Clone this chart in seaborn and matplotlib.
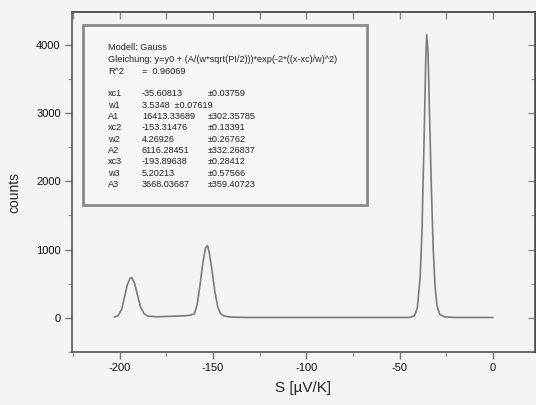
import numpy as np
import matplotlib.pyplot as plt
import seaborn as sns
from matplotlib.patches import Rectangle
from matplotlib.ticker import MultipleLocator

s_werte = [-203, -201, -199, -197.5, -196, -194.5, -193.5, -192, -190.5, -189, -187, -185,
           -180, -175, -170, -165, -162, -160, -158.5, -157, -155.5, -154, -153, -152,
           -150.5, -149, -147.5, -146, -144, -140, -130, -120, -100, -80, -60, -50, -45,
           -42, -40.5, -39, -38, -37, -36, -35.5, -34.8, -34, -33, -32, -31, -30, -28.5,
           -26, -20, -10, 0]
counts = [10, 30, 120, 300, 480, 580, 590, 500, 330, 170, 60, 25,
          15, 20, 25, 30, 40, 60, 200, 480, 800, 1030, 1060, 950,
          680, 380, 160, 60, 25, 10, 5, 5, 5, 5, 5, 5, 5,
          30, 150, 600, 1300, 2500, 3800, 4150, 3900, 3000, 1900, 1000, 450, 180, 50,
          15, 5, 5, 5]

namen = ['xc1', 'w1', 'A1', 'xc2', 'w2', 'A2', 'xc3', 'w3', 'A3']
werte = ['-35.60813', '3.5348  \u00b10.07619', '16413.33689', '-153.31476', '4.26926',
         '6116.28451', '-193.89638', '5.20213', '3668.03687']
fehler = ['\u00b10.03759', '', '\u00b1302.35785', '\u00b10.13391', '\u00b10.26762',
          '\u00b1332.26837', '\u00b10.28412', '\u00b10.57566', '\u00b1359.40723']

sns.set_style('ticks')
plt.rcParams['font.family'] = ['Liberation Sans', 'DejaVu Sans']
plt.rcParams['axes.unicode_minus'] = False

fig = plt.figure(figsize=(5.36, 4.05), dpi=100, facecolor='#f4f4f4')
ax = fig.add_axes([0.134, 0.131, 0.864, 0.839])
ax.set_facecolor('#f4f4f4')

sns.lineplot(x=s_werte, y=counts, ax=ax, color='#7c7c7c', linewidth=1.2, sort=False)

ax.set_xlim(-225.7, 22.5)
ax.set_ylim(-500, 4480)
ax.xaxis.set_major_locator(MultipleLocator(50))
ax.xaxis.set_minor_locator(MultipleLocator(25))
ax.set_yticks([0, 1000, 2000, 3000, 4000])
ax.yaxis.set_minor_locator(MultipleLocator(500))

for sp in ax.spines.values():
    sp.set_color('#555555')
    sp.set_linewidth(1.2)

ax.tick_params(axis='both', which='major', direction='out', length=5, width=1,
               color='#777777', labelsize=8, pad=3, labelcolor='#111111')
ax.tick_params(axis='both', which='minor', direction='out', length=3, width=0.8,
               color='#999999')

# obere und rechte Achse mit Ticks nach innen
top = ax.secondary_xaxis('top')
top.xaxis.set_major_locator(MultipleLocator(25))
top.tick_params(direction='in', length=5, width=1, color='#888888', labeltop=False)
top.spines['top'].set_color('#555555')
top.spines['top'].set_linewidth(1.2)
right = ax.secondary_yaxis('right')
right.yaxis.set_major_locator(MultipleLocator(1000))
right.yaxis.set_minor_locator(MultipleLocator(500))
right.tick_params(which='major', direction='in', length=5, width=1, color='#888888',
                  labelright=False)
right.tick_params(which='minor', direction='in', length=3, width=0.8, color='#999999')

ax.set_xlabel('S [\u00b5V/K]', fontsize=11, labelpad=6)
ax.set_ylabel('counts', fontsize=10)
ax.yaxis.set_label_coords(-0.11, 0.47)

# Ergebnis-Box
box = Rectangle((83, 200), 284, 180, transform=None, facecolor='#f7f7f7',
                edgecolor='#8a8a8a', linewidth=2.0, zorder=5)
fig.patches.append(box)

def txt(x, y, s):
    fig.text(x / 536, 1 - y / 405, s, fontsize=6.6, va='center', ha='left',
             color='#222222', zorder=6)

txt(108, 48, 'Modell: Gauss')
txt(108, 60, 'Gleichung: y=y0 + (A/(w*sqrt(PI/2)))*exp(-2*((x-xc)/w)^2)')
txt(108, 71, 'R^2')
txt(142, 71, '=  0.96069')
for i, (n, w, f) in enumerate(zip(namen, werte, fehler)):
    y = 94 + i * 11.3
    txt(108, y, n)
    txt(142, y, w)
    txt(208, y, f)

fig.savefig('out.png', dpi=100, facecolor=fig.get_facecolor())
